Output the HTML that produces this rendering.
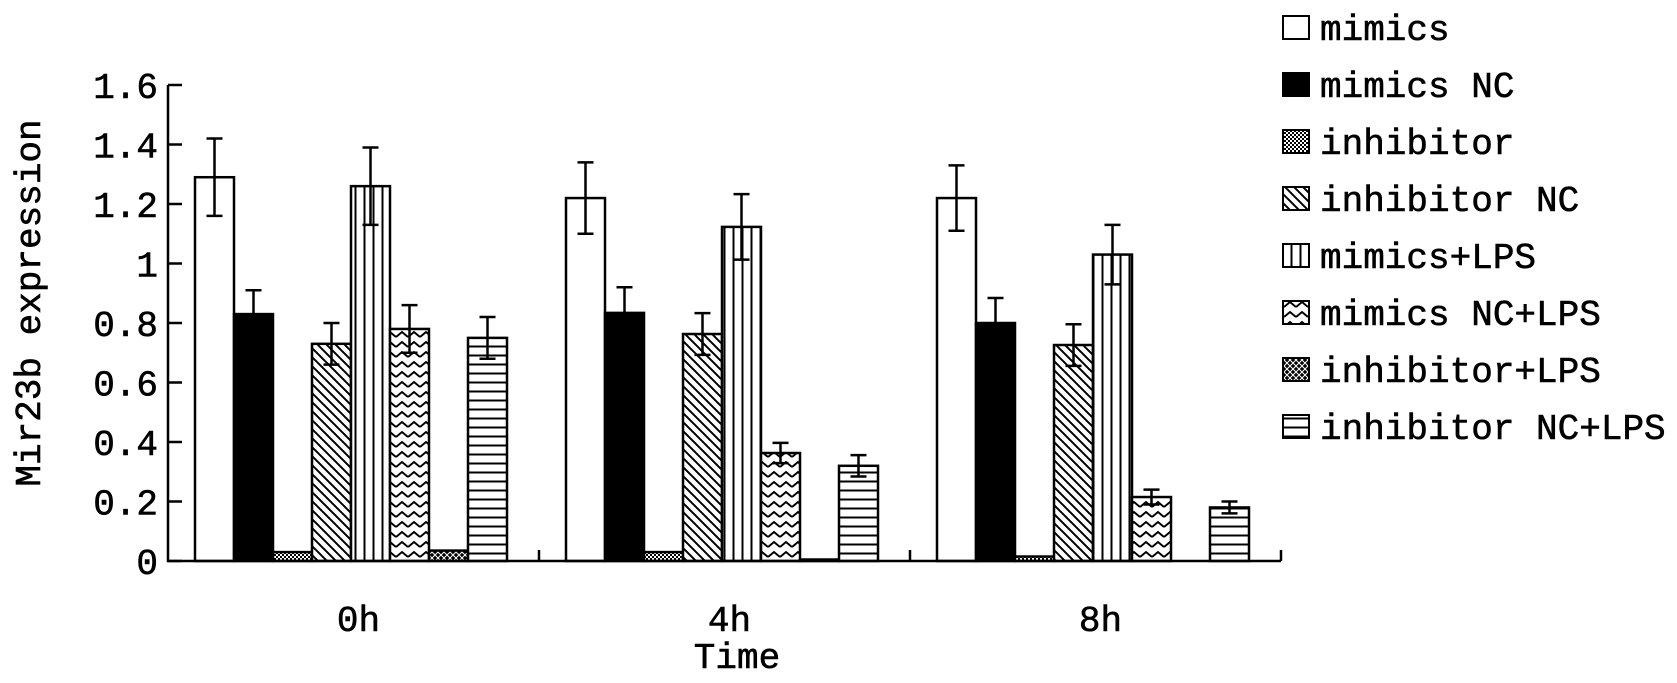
<!DOCTYPE html>
<html><head><meta charset="utf-8"><style>
html,body{margin:0;padding:0;background:#fff;}
svg{display:block;}
text{font-family:"Liberation Mono","DejaVu Sans Mono",monospace;fill:#000;stroke:#000;stroke-width:0.6;}
</style></head><body>
<svg id="chart" width="1677" height="683" viewBox="0 0 1677 683">
<defs>
<pattern id="p-inhib" width="4" height="4" patternUnits="userSpaceOnUse"><rect width="4" height="4" fill="#fff"/><rect width="2" height="2" fill="#000"/><rect x="2" y="2" width="2" height="2" fill="#000"/></pattern>
<pattern id="p-inhibnc" width="9" height="9" patternUnits="userSpaceOnUse"><rect width="9" height="9" fill="#fff"/><path d="M-2,-2 L11,11 M-2,7 L2,11 M7,-2 L11,2" stroke="#000" stroke-width="2"/></pattern>
<pattern id="p-vert" width="9" height="9" patternUnits="userSpaceOnUse"><rect width="9" height="9" fill="#fff"/><line x1="4.5" y1="0" x2="4.5" y2="9" stroke="#000" stroke-width="2"/></pattern>
<pattern id="p-zig" width="12" height="10" patternUnits="userSpaceOnUse"><rect width="12" height="10" fill="#fff"/><path d="M0,7 L6,2 L12,7" stroke="#000" stroke-width="2" fill="none"/></pattern>
<pattern id="p-cross" width="6" height="6" patternUnits="userSpaceOnUse"><rect width="6" height="6" fill="#000"/><path d="M0,0 L6,6 M6,0 L0,6" stroke="#fff" stroke-width="1"/></pattern>
<pattern id="p-horiz" width="9" height="9" patternUnits="userSpaceOnUse"><rect width="9" height="9" fill="#fff"/><line x1="0" y1="4.5" x2="9" y2="4.5" stroke="#000" stroke-width="2"/></pattern>
</defs>
<g id="plot"></g>
<g id="legend"></g>
<text x="737" y="668" font-size="36" text-anchor="middle">Time</text>
<text transform="translate(40,303) rotate(-90)" font-size="36" text-anchor="middle">Mir23b expression</text>
</svg>
<script>
const categories = ["0h","4h","8h"];
const seriesNames = ["mimics","mimics NC","inhibitor","inhibitor NC","mimics+LPS","mimics NC+LPS","inhibitor+LPS","inhibitor NC+LPS"];
const mimics = [1.29,1.22,1.22];
const mimicsNC = [0.83,0.834,0.80];
const inhibitor = [0.03,0.03,0.015];
const inhibitorNC = [0.73,0.763,0.726];
const mimicsLPS = [1.26,1.123,1.03];
const mimicsNCLPS = [0.78,0.363,0.215];
const inhibitorLPS = [0.035,0.005,0];
const inhibitorNCLPS = [0.75,0.32,0.18];
const errMimics = [0.13,0.12,0.11];
const errMimicsNC = [0.08,0.086,0.084];
const errInhibitor = [0,0,0];
const errInhibitorNC = [0.07,0.07,0.07];
const errMimicsLPS = [0.13,0.11,0.10];
const errMimicsNCLPS = [0.08,0.034,0.025];
const errInhibitorLPS = [0,0,0];
const errInhibitorNCLPS = [0.07,0.036,0.02];
const yTicks = [0,0.2,0.4,0.6,0.8,1,1.2,1.4,1.6];
const yTickLabels = ["0","0.2","0.4","0.6","0.8","1","1.2","1.4","1.6"];

const values = [mimics,mimicsNC,inhibitor,inhibitorNC,mimicsLPS,mimicsNCLPS,inhibitorLPS,inhibitorNCLPS];
const errs = [errMimics,errMimicsNC,errInhibitor,errInhibitorNC,errMimicsLPS,errMimicsNCLPS,errInhibitorLPS,errInhibitorNCLPS];
const fills = ["#fff","#000","url(#p-inhib)","url(#p-inhibnc)","url(#p-vert)","url(#p-zig)","url(#p-cross)","url(#p-horiz)"];

const NS="http://www.w3.org/2000/svg";
const X0=168, X1=1281, Y0=561, PXU=297.5;
const groupW=(X1-X0)/categories.length, barW=39, offs=27;
const y = v => Y0 - v*PXU;
const xBar = (g,s) => X0 + g*groupW + offs + s*barW;
const plot=document.getElementById('plot');
function mk(tag,attrs,parent){const e=document.createElementNS(NS,tag);for(const k in attrs)e.setAttribute(k,attrs[k]);(parent||plot).appendChild(e);return e;}

for(let s=0;s<values.length;s++){
  for(let g=0;g<categories.length;g++){
    const v=values[s][g]; if(v<=0) continue;
    const x=xBar(g,s);
    const r=mk('rect',{x:x,y:y(v),width:barW,height:Y0-y(v),fill:fills[s],stroke:'#000','stroke-width':2.5});
    
    
    const e=errs[s][g];
    if(e>0){
      const cx=x+barW/2;
      const eb=mk('path',{d:`M${cx},${y(v+e)} V${y(v-e)} M${cx-8},${y(v+e)} H${cx+8} M${cx-8},${y(v-e)} H${cx+8}`,stroke:'#000','stroke-width':2.5,fill:'none'});
      
      
    }
  }
}
const ax=mk('path',{d:`M${X0},${y(1.6)} V${Y0} H${X1}`,stroke:'#000','stroke-width':2.5,fill:'none'});


for(let i=0;i<yTicks.length;i++){
  const ty=y(yTicks[i]);
  mk('line',{x1:X0,y1:ty,x2:X0+14,y2:ty,stroke:'#000','stroke-width':2.5});
  const t=mk('text',{x:158,y:ty+13,'font-size':36,'text-anchor':'end'});
  t.textContent=yTickLabels[i];
  
  
}
for(let g=1;g<=categories.length;g++){
  const tx=X0+g*groupW;
  mk('line',{x1:tx,y1:Y0,x2:tx,y2:Y0-11,stroke:'#000','stroke-width':2.5});
}
for(let g=0;g<categories.length;g++){
  const t=mk('text',{x:X0+g*groupW+groupW/2+5,y:Y0+70,'font-size':36,'text-anchor':'middle'});
  t.textContent=categories[g];
  
  
}
const lg=document.getElementById('legend');
for(let s=0;s<seriesNames.length;s++){
  const cy=27+s*57;
  const g=mk('g',{},lg);
  
  
  mk('rect',{x:1283,y:cy-11,width:26,height:23,fill:fills[s],stroke:'#000','stroke-width':2},g);
  const t=mk('text',{x:1320,y:cy+13,'font-size':36},g);
  t.textContent=seriesNames[s];
}
</script>
</body></html>
